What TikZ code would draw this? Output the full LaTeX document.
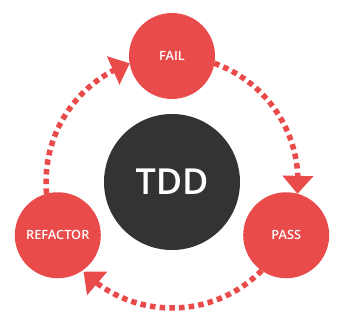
\documentclass[tikz,border=0pt]{standalone}
\usepackage{fontspec}
\setmainfont{Open Sans}
\newfontfamily\tddsemi{Open Sans Semibold}
\usetikzlibrary{arrows.meta,bending}
\definecolor{tddred}{HTML}{E94A4A}
\definecolor{tdddark}{HTML}{333333}
\begin{document}
\begin{tikzpicture}[x=1bp,y=1bp,
    stage/.style={circle,fill=tddred,text=white,minimum size=86bp,inner sep=0pt,
      font=\tddsemi\fontsize{12.8}{14}\selectfont},
    cyc/.style={draw=tddred,line width=5.5bp,dash pattern=on 5.5bp off 4.2bp,
      -{Triangle[length=18bp,width=30bp,flex]}}]
  \useasboundingbox (-172,-147) rectangle (175,182);
  % centre
  \node[circle,fill=tdddark,text=white,minimum size=136bp,inner sep=0pt,
    font=\tddsemi\fontsize{36}{40}\selectfont] (tdd) at (0,0) {TDD};
  % stages
  \node[stage] (fail) at (90:126) {FAIL};
  \node[stage] (pass) at (-25:126) {PASS};
  \node[stage] (refactor) at (205:126) {REFACTOR};
  % arc ends
  \coordinate (f1) at (70.4:126);
  \coordinate (p1) at (-44.6:126);
  \coordinate (r1) at (185.4:126);
  \draw[cyc] (f1) arc[start angle=70.4,end angle=-5.4,radius=126];
  \draw[cyc] (p1) arc[start angle=-44.6,end angle=-134.6,radius=126];
  \draw[cyc] (r1) arc[start angle=185.4,end angle=109.6,radius=126];
\end{tikzpicture}
\end{document}
